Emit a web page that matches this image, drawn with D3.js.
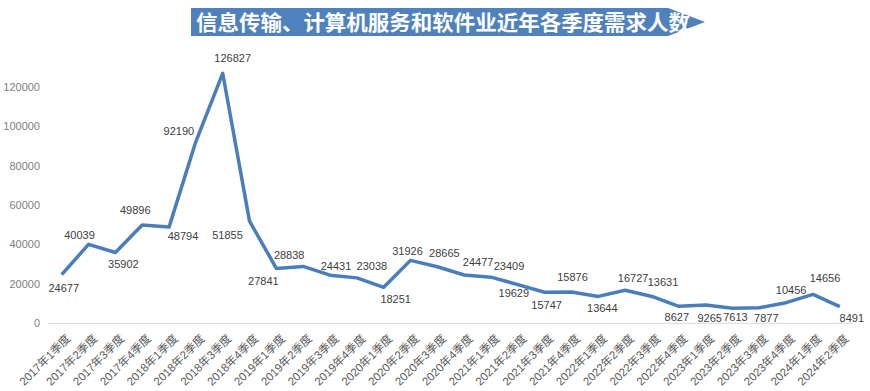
<!DOCTYPE html>
<html>
<head>
<meta charset="utf-8">
<script src="https://cdn.jsdelivr.net/npm/d3@7/dist/d3.min.js"></script>
<style>
  html, body { margin: 0; padding: 0; background: #ffffff; }
  svg { display: block; }
</style>
</head>
<body>
<svg id="chart" width="870" height="391"></svg>
<script>
const title = "信息传输、计算机服务和软件业近年各季度需求人数";
const categories = [
  "2017年1季度","2017年2季度","2017年3季度","2017年4季度",
  "2018年1季度","2018年2季度","2018年3季度","2018年4季度",
  "2019年1季度","2019年2季度","2019年3季度","2019年4季度",
  "2020年1季度","2020年2季度","2020年3季度","2020年4季度",
  "2021年1季度","2021年2季度","2021年3季度","2021年4季度",
  "2022年1季度","2022年2季度","2022年3季度","2022年4季度",
  "2023年1季度","2023年2季度","2023年3季度","2023年4季度",
  "2024年1季度","2024年2季度"
];
const demand = [
  24677, 40039, 35902, 49896,
  48794, 92190, 126827, 51855,
  27841, 28838, 24431, 23038,
  18251, 31926, 28665, 24477,
  23409, 19629, 15747, 15876,
  13644, 16727, 13631, 8627,
  9265, 7613, 7877, 10456,
  14656, 8491
];
const yTicks = [0, 20000, 40000, 60000, 80000, 100000, 120000];

// label placement (style): offset of label centre from its point
const labelOffsets = [
  [2,13],[-9,-9],[8,12],[-7,-15],[14,9],[-17,-10],[10,-15],[-22,14],
  [-13,13],[-14,-11],[6,-9],[15,-12],[12,12],[-3,-9],[7,-14],[14,-13],
  [18,-11],[-4,9],[2,13],[1,-15],[4,12],[8,12*-1],[11,-14],[-2,11],
  [4,13],[3,9],[7,10],[5,-13],[12,-16],[12,12]
];

const svg = d3.select("#chart");

const x = d3.scalePoint().domain(categories).range([48.3, 853.2]).padding(0.5);
const y = d3.scaleLinear().domain([0, 140000]).range([323.3, 47.3]);

// Title banner
const bx0 = 191, bx1 = 668, btip = 705, by0 = 8, by1 = 36;
svg.append("polygon")
  .attr("points", [[bx0,by0],[bx1,by0],[btip,(by0+by1)/2],[bx1,by1],[bx0,by1]].map(p=>p.join(",")).join(" "))
  .attr("fill", "#4F81BD");
svg.append("text")
  .attr("x", 196).attr("y", 30)
  .attr("fill", "#ffffff")
  .attr("font-family", "'Noto Sans CJK SC', sans-serif")
  .attr("font-weight", "bold")
  .attr("font-size", 21)
  .attr("textLength", 494)
  .attr("lengthAdjust", "spacingAndGlyphs")
  .text(title);

// baseline
svg.append("line")
  .attr("x1", 48.3).attr("x2", 853.2)
  .attr("y1", y(0)).attr("y2", y(0))
  .attr("stroke", "#d9d9d9").attr("stroke-width", 1);

// Y axis
const yAxis = svg.append("g")
  .attr("transform", "translate(40,0)")
  .call(d3.axisLeft(y).tickValues(yTicks).tickSize(0).tickPadding(0).tickFormat(d3.format("d")));
yAxis.select(".domain").remove();
yAxis.selectAll("text")
  .attr("fill", "#7f7f7f")
  .attr("font-family", "'Liberation Sans', Arial, sans-serif")
  .attr("font-size", 11);

// X axis
const xAxis = svg.append("g")
  .attr("transform", `translate(0,${y(0)})`)
  .call(d3.axisBottom(x).tickSize(0).tickPadding(0));
xAxis.select(".domain").remove();
xAxis.selectAll("text")
  .attr("fill", "#595959")
  .attr("font-family", "'Liberation Sans', 'Noto Sans CJK SC', sans-serif")
  .attr("font-size", 11.5)
  .attr("text-anchor", "end")
  .attr("dy", null)
  .attr("transform", "translate(9,16) rotate(-45)");

// Line
const line = d3.line().x((d,i) => x(categories[i])).y(d => y(d));
svg.append("path")
  .datum(demand)
  .attr("d", line)
  .attr("fill", "none")
  .attr("stroke", "#4A7EBB")
  .attr("stroke-width", 3.5)
  .attr("stroke-linejoin", "round");

// Data labels
svg.append("g").selectAll("text")
  .data(demand)
  .join("text")
  .attr("x", (d,i) => x(categories[i]) + labelOffsets[i][0])
  .attr("y", (d,i) => y(d) + labelOffsets[i][1])
  .attr("dy", "0.35em")
  .attr("text-anchor", "middle")
  .attr("fill", "#404040")
  .attr("font-family", "'Liberation Sans', Arial, sans-serif")
  .attr("font-size", 11)
  .text(d => d);
</script>
</body>
</html>
